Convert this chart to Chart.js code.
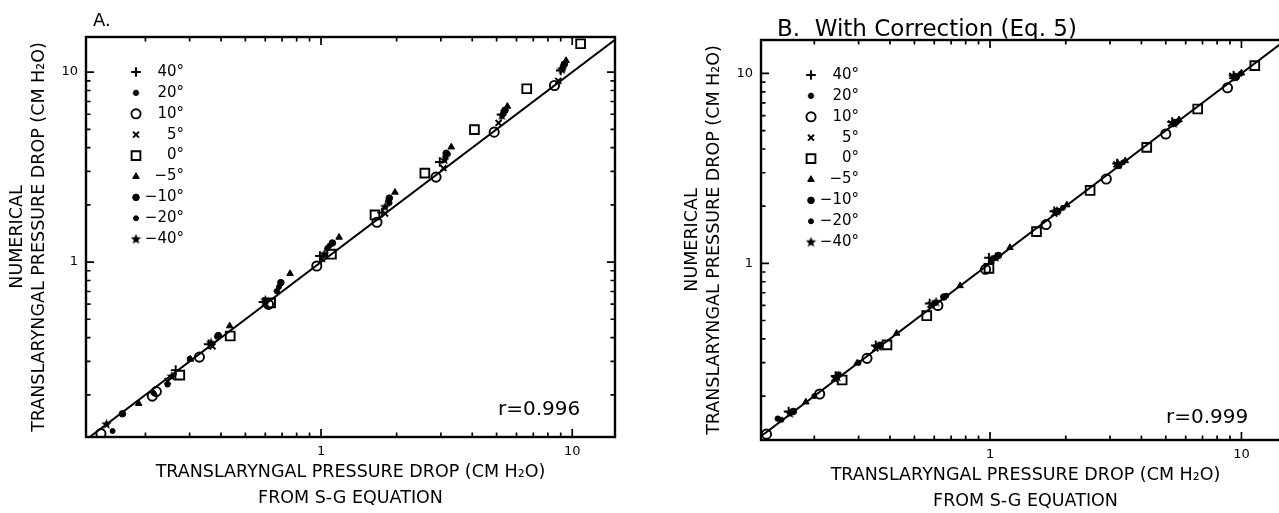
<!DOCTYPE html>
<html>
<head>
<meta charset="utf-8">
<script src="https://cdn.jsdelivr.net/npm/chart.js@4.4.1/dist/chart.umd.min.js"></script>
<style>
  html, body { margin: 0; padding: 0; background: #fff; }
  body { width: 1279px; height: 513px; overflow: hidden; position: relative;
         font-family: "DejaVu Sans", sans-serif; color: #000; }
  canvas { position: absolute; }
  .note { position: absolute; white-space: nowrap; line-height: 1; transform: translateY(-50%); }
</style>
</head>
<body>
<canvas id="panelA" width="640" height="513" style="left:0;top:0;width:640px;height:513px"></canvas>
<canvas id="panelB" width="640" height="513" style="left:675px;top:3px;width:640px;height:513px"></canvas>
<div class="note" style="left:93px;top:20px;font-size:18px">A.</div>
<div class="note" style="left:777px;top:28px;font-size:23px">B.&nbsp;&nbsp;With Correction (Eq. 5)</div>
<div class="note" style="left:498px;top:408px;font-size:20px">r=0.996</div>
<div class="note" style="left:1166px;top:416px;font-size:20px">r=0.999</div>
<script>
// Glottal angles, one series each
const angleLabels = ['40°', '20°', '10°', '5°', '0°', '−5°', '−10°', '−20°', '−40°'];

// Panel A: pressure drop from S-G equation (x) vs numerical result (y), cm H2O
const a40  = [[0.264, 0.27], [0.357, 0.369], [0.59, 0.616], [0.99, 1.076], [1.75, 1.82], [2.97, 3.36], [5.23, 5.97], [9.0, 10.2]];
const a20  = [[0.245, 0.227], [0.386, 0.405], [0.667, 0.703], [1.06, 1.18], [1.87, 2.05], [3.13, 3.6], [5.3, 6.0], [9.1, 10.4]];
const a10  = [[0.133, 0.125], [0.213, 0.197], [0.221, 0.208], [0.328, 0.316], [0.618, 0.599], [0.962, 0.953], [1.67, 1.62], [2.87, 2.8], [4.89, 4.83], [8.5, 8.5]];
const a5   = [[0.245, 0.236], [0.37, 0.36], [0.6, 0.605], [1.01, 1.04], [1.8, 1.8], [3.07, 3.12], [5.09, 5.4], [8.8, 9.0]];
const a0   = [[0.274, 0.254], [0.435, 0.408], [0.63, 0.61], [1.1, 1.1], [1.64, 1.77], [2.59, 2.94], [4.08, 4.98], [6.59, 8.17], [10.8, 14.1]];
const aM5  = [[0.188, 0.18], [0.302, 0.308], [0.433, 0.461], [0.753, 0.869], [1.18, 1.35], [1.97, 2.33], [3.3, 4.03], [5.52, 6.6], [9.45, 11.5]];
const aM10 = [[0.162, 0.159], [0.39, 0.41], [0.692, 0.779], [1.11, 1.26], [1.87, 2.17], [3.15, 3.74], [5.4, 6.3], [9.3, 11.0]];
const aM20 = [[0.148, 0.129], [0.215, 0.205], [0.3, 0.31], [0.68, 0.74], [1.08, 1.22], [1.85, 2.1], [3.2, 3.7], [5.35, 6.2], [9.2, 10.8]];
const aM40 = [[0.14, 0.14], [0.255, 0.25], [0.365, 0.375], [0.6, 0.63], [1.03, 1.1], [1.8, 1.95], [3.1, 3.45], [5.25, 5.9], [9.1, 10.3]];

// Panel B: same cases with the corrected S-G equation (Eq. 5)
const b40  = [[0.158, 0.166], [0.243, 0.255], [0.351, 0.37], [0.575, 0.615], [0.99, 1.07], [1.8, 1.88], [3.2, 3.35], [5.3, 5.55], [9.3, 9.75]];
const b20  = [[0.143, 0.152], [0.25, 0.26], [0.355, 0.365], [0.6, 0.615], [1.03, 1.06], [1.83, 1.87], [3.22, 3.28], [5.35, 5.42], [9.35, 9.45]];
const b10  = [[0.129, 0.126], [0.21, 0.205], [0.324, 0.316], [0.62, 0.6], [0.96, 0.93], [1.67, 1.6], [2.9, 2.78], [5.0, 4.8], [8.8, 8.4]];
const b5   = [[0.24, 0.247], [0.35, 0.357], [0.58, 0.605], [1.01, 1.04], [1.8, 1.83], [3.18, 3.32], [5.25, 5.45], [9.2, 9.7]];
const b0   = [[0.258, 0.243], [0.389, 0.372], [0.56, 0.53], [0.99, 0.94], [1.53, 1.47], [2.5, 2.42], [4.2, 4.08], [6.7, 6.5], [11.3, 11.0]];
const bM5  = [[0.185, 0.186], [0.296, 0.298], [0.425, 0.428], [0.76, 0.762], [1.2, 1.21], [2.02, 2.03], [3.45, 3.47], [5.65, 5.7], [10.0, 10.05]];
const bM10 = [[0.165, 0.166], [0.365, 0.37], [0.655, 0.665], [1.08, 1.1], [1.86, 1.88], [3.25, 3.28], [5.45, 5.5], [9.55, 9.6]];
const bM20 = [[0.148, 0.15], [0.2, 0.2], [0.3, 0.3], [0.67, 0.675], [1.06, 1.07], [1.95, 1.96], [3.38, 3.4], [5.6, 5.62], [9.9, 9.95]];
const bM40 = [[0.16, 0.162], [0.247, 0.252], [0.36, 0.364], [0.61, 0.625], [1.05, 1.075], [1.84, 1.88], [3.24, 3.3], [5.38, 5.45], [9.4, 9.55]];

// Axis ticks (log decades) and which of them carry a label
const tickValues = [0.2, 0.3, 0.4, 0.5, 0.6, 0.7, 0.8, 0.9, 1, 2, 3, 4, 5, 6, 7, 8, 9, 10];
const labelledTicks = [1, 10];

// Line of identity, y = x
const identityEnds = [0.05, 30];

// Axis limits
const xRangeA = [0.116, 14.8];
const yRangeA = [0.12, 15.3];
const xRangeB = [0.1227, 15.6];
const yRangeB = [0.1174, 15.0];

const FONT = "'DejaVu Sans', sans-serif";
const xTitle = ['TRANSLARYNGAL PRESSURE DROP (CM H₂O)', 'FROM S-G EQUATION'];
const yTitle = ['NUMERICAL', 'TRANSLARYNGAL PRESSURE DROP (CM H₂O)'];

// small filled five-point star used as a marker
function starMarker(size) {
  const c = document.createElement('canvas');
  c.width = size; c.height = size;
  const g = c.getContext('2d');
  g.fillStyle = '#000';
  g.beginPath();
  const cx = size / 2, cy = size / 2, ro = size / 2, ri = size / 4.6;
  for (let i = 0; i < 10; i++) {
    const r = i % 2 ? ri : ro;
    const a = -Math.PI / 2 + i * Math.PI / 5;
    g.lineTo(cx + r * Math.cos(a), cy + r * Math.sin(a));
  }
  g.closePath();
  g.fill();
  return c;
}

const markerStyles = [
  { pointStyle: 'cross',    radius: 4.8, borderWidth: 1.9, fill: '#000' },
  { pointStyle: 'star',     radius: 3.2, borderWidth: 1.8, fill: '#000' },
  { pointStyle: 'circle',   radius: 4.6, borderWidth: 1.9, fill: 'rgba(0,0,0,0)' },
  { pointStyle: 'crossRot', radius: 4.2, borderWidth: 1.9, fill: '#000' },
  { pointStyle: 'rect',     radius: 6.2, borderWidth: 1.9, fill: 'rgba(0,0,0,0)' },
  { pointStyle: 'triangle', radius: 3.8, borderWidth: 1,   fill: '#000' },
  { pointStyle: 'circle',   radius: 3.3, borderWidth: 1,   fill: '#000' },
  { pointStyle: 'circle',   radius: 2.5, borderWidth: 1,   fill: '#000' },
  { pointStyle: starMarker(11), radius: 4, borderWidth: 1, fill: '#000' }
];

function buildDatasets(seriesList) {
  const sets = seriesList.map((pts, i) => ({
    label: angleLabels[i],
    legendRow: true,
    data: pts.map(p => ({ x: p[0], y: p[1] })),
    showLine: false,
    pointStyle: markerStyles[i].pointStyle,
    pointRadius: markerStyles[i].radius,
    pointBorderWidth: markerStyles[i].borderWidth,
    pointBorderColor: '#000',
    pointBackgroundColor: markerStyles[i].fill
  }));
  sets.push({
    label: 'y = x',
    data: identityEnds.map(v => ({ x: v, y: v })),
    showLine: true,
    borderColor: '#000',
    borderWidth: 2,
    pointRadius: 0
  });
  return sets;
}

// box round the plot with inward tick marks on all four sides
const frameTicks = {
  id: 'frameTicks',
  afterDraw(chart) {
    const { ctx, chartArea } = chart;
    const { left, right, top, bottom } = chartArea;
    const xs = chart.scales.x, ys = chart.scales.y;
    ctx.save();
    ctx.strokeStyle = '#000';
    ctx.lineWidth = 2.4;
    ctx.strokeRect(left, top, right - left, bottom - top);
    ctx.lineWidth = 1.7;
    ctx.beginPath();
    xs.ticks.forEach(t => {
      const p = xs.getPixelForValue(t.value);
      const len = labelledTicks.includes(t.value) ? 8 : 4.5;
      ctx.moveTo(p, bottom); ctx.lineTo(p, bottom - len);
      ctx.moveTo(p, top); ctx.lineTo(p, top + len);
    });
    ys.ticks.forEach(t => {
      const p = ys.getPixelForValue(t.value);
      const len = labelledTicks.includes(t.value) ? 8 : 4.5;
      ctx.moveTo(left, p); ctx.lineTo(left + len, p);
      ctx.moveTo(right, p); ctx.lineTo(right - len, p);
    });
    ctx.stroke();
    ctx.restore();
  }
};

// key of marker symbols in the upper-left corner of the plot
const inPlotLegend = {
  id: 'inPlotLegend',
  afterDraw(chart) {
    const { ctx, chartArea } = chart;
    const markerX = chartArea.left + 50;
    const textRight = chartArea.left + 98;
    const firstY = chartArea.top + 35;
    const step = 20.9;
    let row = 0;
    ctx.save();
    ctx.font = '15px ' + FONT;
    ctx.textAlign = 'right';
    ctx.textBaseline = 'middle';
    chart.data.datasets.forEach(ds => {
      if (!ds.legendRow) return;
      const y = firstY + row * step;
      ctx.save();
      ctx.fillStyle = ds.pointBackgroundColor;
      ctx.strokeStyle = ds.pointBorderColor;
      ctx.lineWidth = ds.pointBorderWidth;
      Chart.helpers.drawPoint(ctx, {
        pointStyle: ds.pointStyle, radius: ds.pointRadius, rotation: 0, borderWidth: ds.pointBorderWidth
      }, markerX, y);
      ctx.restore();
      ctx.fillStyle = '#000';
      ctx.fillText(ds.label, textRight, y);
      row++;
    });
    ctx.restore();
  }
};

function logAxis(range, isX) {
  const axis = {
    type: 'logarithmic',
    position: isX ? 'bottom' : 'left',
    min: range[0],
    max: range[1],
    afterBuildTicks: s => { s.ticks = tickValues.map(v => ({ value: v })); },
    grid: { display: false, drawTicks: false },
    border: { display: false },
    ticks: {
      autoSkip: false, maxRotation: 0, color: '#000',
      padding: isX ? 7 : 8,
      font: { family: FONT, size: 13 },
      callback: v => (labelledTicks.includes(v) ? String(v) : '')
    },
    title: {
      display: true,
      text: isX ? xTitle : yTitle,
      color: '#000',
      font: { family: FONT, size: 17.5, lineHeight: isX ? '26px' : '22px' },
      padding: isX ? { top: 0, bottom: 2 } : { top: 6, bottom: 0 }
    }
  };
  if (isX) axis.afterFit = s => { s.height = 76; };
  else axis.afterFit = s => { s.width = 86; };
  return axis;
}

function drawPanel(canvasId, seriesList, xRange, yRange) {
  return new Chart(document.getElementById(canvasId), {
    type: 'scatter',
    data: { datasets: buildDatasets(seriesList) },
    options: {
      responsive: false,
      animation: false,
      events: [],
      layout: { padding: { top: 37, right: 25, left: 0, bottom: 0 } },
      plugins: { legend: { display: false }, tooltip: { enabled: false } },
      scales: { x: logAxis(xRange, true), y: logAxis(yRange, false) }
    },
    plugins: [frameTicks, inPlotLegend]
  });
}

drawPanel('panelA', [a40, a20, a10, a5, a0, aM5, aM10, aM20, aM40], xRangeA, yRangeA);
drawPanel('panelB', [b40, b20, b10, b5, b0, bM5, bM10, bM20, bM40], xRangeB, yRangeB);
</script>
</body>
</html>
